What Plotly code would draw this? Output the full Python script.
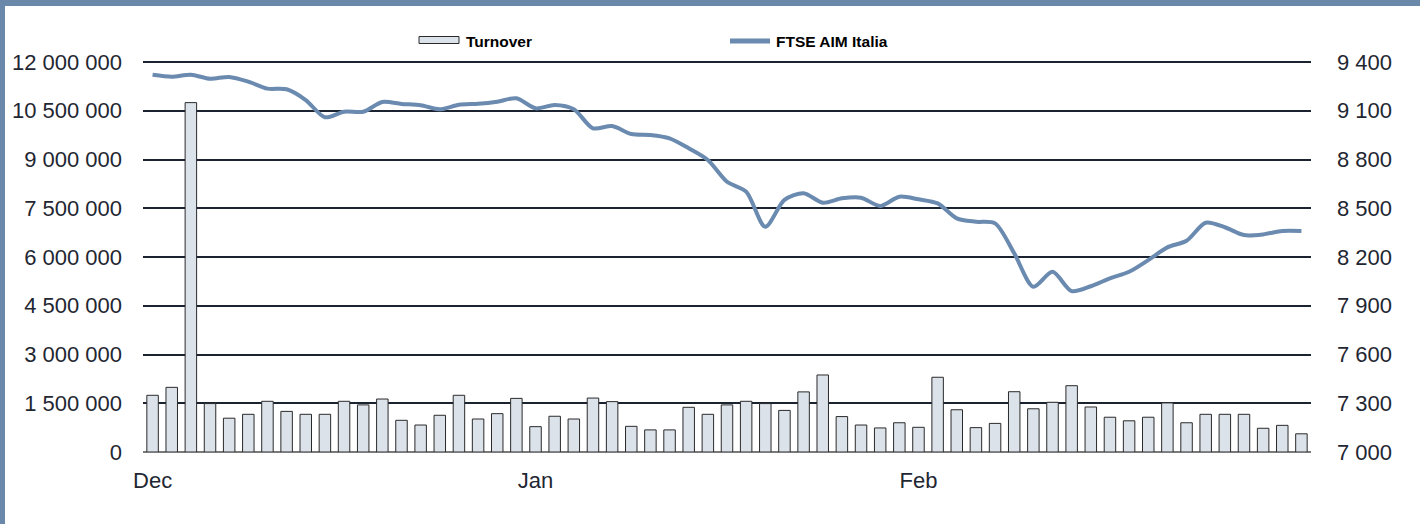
import plotly.graph_objects as go

# ---- data ----
days = list(range(61))
month_ticks = [0, 20, 40]
month_labels = ["Dec", "Jan", "Feb"]

turnover = [1745000, 1990000, 10750000, 1490000, 1040000, 1160000, 1560000, 1250000,
            1160000, 1160000, 1560000, 1450000, 1630000, 975000, 830000, 1130000,
            1745000, 1015000, 1180000, 1650000, 780000, 1100000, 1015000, 1660000,
            1550000, 790000, 680000, 680000, 1375000, 1160000, 1450000, 1560000,
            1490000, 1280000, 1850000, 2370000, 1090000, 830000, 740000, 900000,
            760000, 2300000, 1300000, 750000, 880000, 1855000, 1330000, 1530000,
            2040000, 1385000, 1070000, 960000, 1070000, 1510000, 900000, 1160000,
            1160000, 1160000, 730000, 820000, 560000]

ftse_aim = [9322, 9310, 9322, 9297, 9308, 9279, 9236, 9232, 9166, 9060, 9094, 9094,
            9154, 9142, 9134, 9109, 9137, 9143, 9156, 9177, 9115, 9135, 9109, 8992,
            9006, 8957, 8951, 8930, 8869, 8797, 8663, 8602, 8386, 8551, 8592, 8534,
            8561, 8565, 8514, 8571, 8555, 8530, 8438, 8417, 8407, 8223, 8017, 8109,
            7990, 8020, 8069, 8109, 8181, 8259, 8300, 8411, 8383, 8335, 8339, 8360,
            8360]

left_ticks = [0, 1500000, 3000000, 4500000, 6000000, 7500000, 9000000, 10500000, 12000000]
left_labels = ["0", "1 500 000", "3 000 000", "4 500 000", "6 000 000", "7 500 000",
               "9 000 000", "10 500 000", "12 000 000"]
right_ticks = [7000, 7300, 7600, 7900, 8200, 8500, 8800, 9100, 9400]
right_labels = ["7 000", "7 300", "7 600", "7 900", "8 200", "8 500", "8 800", "9 100", "9 400"]

# ---- style ----
W, H = 1420, 524
L, R, T, B = 143, 109, 58, 72
PW, PH = W - L - R, H - T - B          # PH = 394 px
DATA_PX = 390.0                        # pixels between 0 and 12 000 000
EPS = PH / DATA_PX                     # headroom so the top gridline is drawn
FONT = "Liberation Sans, Arial, sans-serif"
TXT = "#1f2732"
LINE_C = "#6a8aaf"
BAR_C = "#dbe2ea"
FRAME_C = "#6a88aa"


def px(x):
    return (x - L) / PW


def py(y):
    return (H - B - y) / PH


fig = go.Figure()
fig.add_trace(go.Bar(x=days, y=turnover, name="Turnover", width=0.6,
                     marker=dict(color=BAR_C, line=dict(color="#2a2a2a", width=1)),
                     yaxis="y", showlegend=False))
fig.add_trace(go.Scatter(x=days, y=ftse_aim, name="FTSE AIM Italia", mode="lines",
                         line=dict(color=LINE_C, width=4, shape="spline", smoothing=0.8),
                         yaxis="y2", showlegend=False))

shapes = [
    # frame bands
    dict(type="rect", xref="paper", yref="paper", x0=px(0), x1=px(W), y0=py(6), y1=py(0),
         fillcolor=FRAME_C, line=dict(width=0), layer="above"),
    dict(type="rect", xref="paper", yref="paper", x0=px(0), x1=px(5), y0=py(H), y1=py(0),
         fillcolor=FRAME_C, line=dict(width=0), layer="above"),
    # legend swatches
    dict(type="rect", xref="paper", yref="paper", x0=px(419), x1=px(459), y0=py(43.5), y1=py(36.5),
         fillcolor=BAR_C, line=dict(color="#2a2a2a", width=1), layer="above"),
    dict(type="line", xref="paper", yref="paper", x0=px(730), x1=px(770), y0=py(41), y1=py(41),
         line=dict(color=LINE_C, width=5), layer="above"),
]
annotations = [
    dict(text="<b>Turnover</b>", xref="paper", yref="paper", x=px(464), y=py(41),
         xanchor="left", yanchor="middle", showarrow=False,
         font=dict(family=FONT, size=15.5, color="#000000")),
    dict(text="<b>FTSE AIM Italia</b>", xref="paper", yref="paper", x=px(774), y=py(41),
         xanchor="left", yanchor="middle", showarrow=False,
         font=dict(family=FONT, size=15.5, color="#000000")),
]

fig.update_layout(
    width=W, height=H,
    margin=dict(l=L, r=R, t=T, b=B, pad=0),
    paper_bgcolor="white", plot_bgcolor="white",
    font=dict(family=FONT, size=22, color=TXT),
    showlegend=False,
    shapes=shapes,
    annotations=annotations,
    xaxis=dict(range=[-0.5, 60.5], tickvals=month_ticks, ticktext=month_labels,
               showgrid=False, zeroline=False, showline=False, ticks="",
               ticklabelstandoff=13, fixedrange=True),
    yaxis=dict(range=[0, 12000000 * EPS], tickvals=left_ticks, ticktext=left_labels,
               showgrid=True, gridcolor="#1b2330", gridwidth=2,
               zeroline=True, zerolinecolor="#7a7a7a", zerolinewidth=2,
               showline=False, ticks="", ticklabelstandoff=20),
    yaxis2=dict(range=[7000, 7000 + 2400 * EPS], tickvals=right_ticks, ticktext=right_labels,
                overlaying="y", side="right", showgrid=False, zeroline=False,
                showline=False, ticks="", ticklabelstandoff=25),
)

fig.write_html("out.html")
